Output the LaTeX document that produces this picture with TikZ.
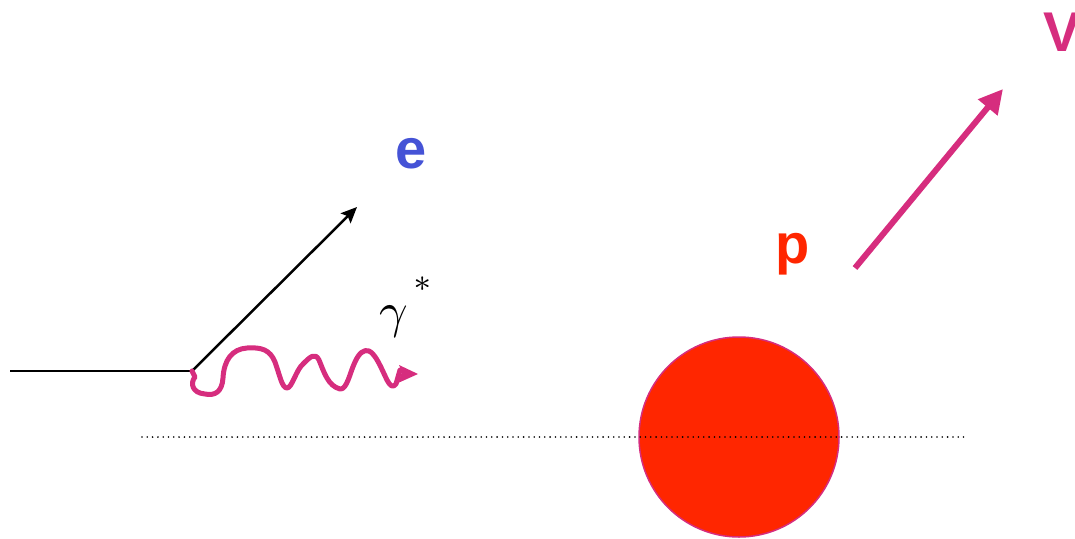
\documentclass[tikz,border=0pt]{standalone}
\usepackage{fontspec}
\setsansfont{Liberation Sans}
\usetikzlibrary{arrows.meta}
\definecolor{mag}{RGB}{214,45,126}
\definecolor{pred}{RGB}{255,38,0}
\definecolor{eblue}{RGB}{69,83,214}
\tikzset{
  lbl/.style={font=\sffamily\bfseries\fontsize{56}{62}\selectfont, inner sep=0pt},
  photon/.style={draw=mag, line width=5pt, line join=round, line cap=round},
  trk/.style={draw=black, line width=2.5pt, -{Stealth[length=16pt,width=14pt,inset=3pt]}}
}
\begin{document}
\begin{tikzpicture}[x=1pt,y=-1pt]
\useasboundingbox (0,0) rectangle (1075,538);
% coordinates
\coordinate (in) at (10,371);
\coordinate (vtx) at (192,371);
\coordinate (eend) at (357,207);
\coordinate (dl) at (142,437);
\coordinate (dr) at (967,437);
\coordinate (vs) at (855,268);
\coordinate (ve) at (1003,89);
% proton
\node[circle, fill=pred, draw=mag, line width=1.5pt, minimum size=200pt, inner sep=0pt] (prot) at (739,437) {};
% dotted line
\draw[line width=1.8pt, line cap=round, dash pattern=on 0pt off 5.3pt] (dl) -- (dr);
% incoming electron
\draw[line width=2.5pt] (in) -- (vtx);
\draw[trk] (vtx) -- (eend);
% photon
\coordinate (ph) at (400,370);
\draw[photon] (vtx) -- (195,377) .. controls (190,383) and (192,393) .. (205,394)
  .. controls (215,396) and (222,392) .. (223,378)
  .. controls (224,360) and (232,349) .. (247,348)
  .. controls (262,347) and (270,350) .. (275,362)
  .. controls (280,376) and (282,388) .. (287,388)
  .. controls (292,388) and (296,370) .. (303,364)
  .. controls (310,357) and (315,352) .. (319,360)
  .. controls (324,372) and (328,386) .. (340,389)
  .. controls (347,390) and (350,372) .. (355,362)
  .. controls (359,353) and (364,349) .. (369,351)
  .. controls (376,354) and (382,370) .. (387,380)
  .. controls (390,386) and (393,388) .. (396,384)
  -- (ph);
\fill[mag] (418,374) -- (399,365) -- (402,372) -- (398,383) -- cycle;
% outgoing vector meson
\draw[mag, line width=6pt, -{Triangle[length=24pt,width=24pt]}] (vs) -- (ve);
% labels
\node[lbl, text=eblue] (e) at (411,154) {e};
\node[lbl, text=pred] (p) at (793,254) {p};
\node[lbl, text=mag, anchor=west] (V) at (1043,32) {V};
\node[inner sep=0pt, scale=5] (g) at (394,322) {$\gamma$};
\node[inner sep=0pt, scale=4.5] (s) at (424,292) {$^*$};
\end{tikzpicture}
\end{document}
